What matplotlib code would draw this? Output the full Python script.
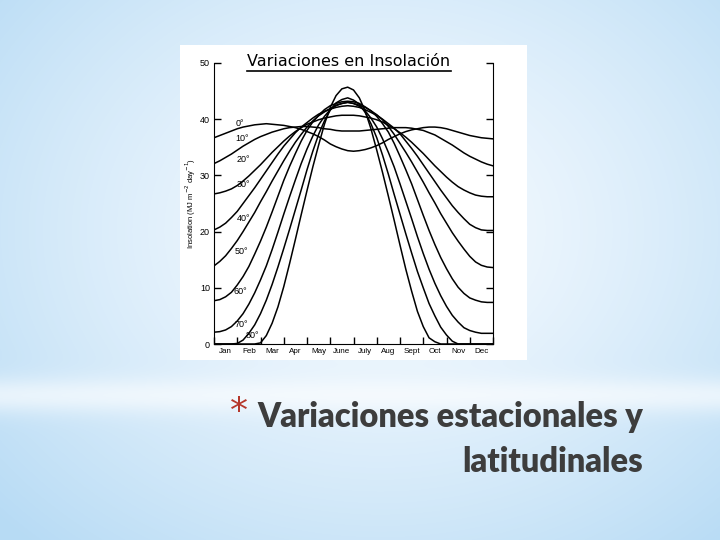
import numpy as np
import matplotlib.pyplot as plt
from matplotlib.patches import Rectangle

# quarter-month sampling, 0 = 1 Jan, 12 = 31 Dec
months = np.arange(49) / 4.0
month_names = ['Jan', 'Feb', 'Mar', 'Apr', 'May', 'June', 'July', 'Aug', 'Sept', 'Oct', 'Nov', 'Dec']

# daily insolation, MJ m-2 day-1
ins_0 = [36.7, 37.1, 37.5, 37.9, 38.3, 38.6, 38.8, 39.0, 39.1, 39.2, 39.1, 39.0, 38.9, 38.7, 38.5, 38.2, 37.8,
         37.4, 36.9, 36.3, 35.6, 35.1, 34.7, 34.4, 34.3, 34.4, 34.6, 34.9, 35.3, 35.8, 36.4, 36.9, 37.4, 37.8,
         38.1, 38.3, 38.5, 38.6, 38.6, 38.5, 38.3, 38.0, 37.7, 37.4, 37.1, 36.9, 36.7, 36.6, 36.5]
ins_10 = [32.1, 32.6, 33.2, 33.8, 34.5, 35.2, 35.8, 36.4, 36.9, 37.3, 37.7, 38.0, 38.3, 38.5, 38.6, 38.7, 38.7,
          38.6, 38.5, 38.3, 38.2, 38.0, 37.9, 37.9, 37.9, 37.9, 38.0, 38.1, 38.2, 38.3, 38.4, 38.5, 38.5, 38.5,
          38.4, 38.2, 38.0, 37.6, 37.2, 36.6, 36.0, 35.4, 34.7, 34.0, 33.4, 32.9, 32.4, 32.0, 31.7]
ins_20 = [26.7, 26.9, 27.2, 27.6, 28.2, 29.0, 29.9, 30.9, 31.9, 33.0, 34.1, 35.1, 36.1, 37.0, 37.8, 38.5, 39.1,
          39.5, 39.9, 40.2, 40.4, 40.6, 40.7, 40.7, 40.7, 40.6, 40.4, 40.2, 39.9, 39.5, 38.9, 38.3, 37.6, 36.8,
          35.9, 34.9, 33.9, 32.8, 31.7, 30.7, 29.7, 28.8, 28.0, 27.4, 26.9, 26.5, 26.3, 26.2, 26.2]
ins_30 = [20.3, 20.8, 21.5, 22.5, 23.6, 25.0, 26.4, 27.8, 29.3, 30.8, 32.3, 33.8, 35.2, 36.4, 37.6, 38.6, 39.4,
          40.2, 40.9, 41.4, 41.8, 42.1, 42.3, 42.4, 42.3, 42.1, 41.7, 41.2, 40.7, 40.0, 39.2, 38.4, 37.4, 36.1,
          34.8, 33.4, 31.9, 30.4, 28.9, 27.4, 26.0, 24.6, 23.4, 22.3, 21.3, 20.7, 20.3, 20.2, 20.2]
ins_40 = [13.9, 14.7, 15.7, 17.0, 18.4, 20.0, 21.7, 23.4, 25.3, 27.1, 29.0, 30.8, 32.6, 34.3, 35.9, 37.3, 38.6,
          39.7, 40.6, 41.3, 41.9, 42.4, 42.8, 43.0, 42.8, 42.5, 42.1, 41.5, 40.8, 39.9, 38.7, 37.3, 35.7, 34.1,
          32.4, 30.6, 28.8, 26.9, 25.1, 23.2, 21.5, 19.8, 18.3, 16.9, 15.6, 14.6, 14.0, 13.7, 13.6]
ins_50 = [7.7, 7.9, 8.4, 9.2, 10.5, 12.0, 13.8, 16.0, 18.3, 20.8, 23.5, 26.3, 29.1, 31.6, 33.9, 36.1, 38.0,
          39.5, 40.7, 41.7, 42.4, 42.8, 43.1, 43.2, 43.1, 42.8, 42.2, 41.5, 40.5, 39.2, 37.7, 35.7, 33.4, 31.0,
          28.5, 25.7, 22.9, 20.2, 17.7, 15.4, 13.4, 11.6, 10.1, 9.0, 8.2, 7.8, 7.5, 7.4, 7.4]
ins_60 = [2.1, 2.2, 2.5, 3.1, 4.1, 5.4, 7.1, 9.1, 11.4, 13.9, 16.8, 19.9, 23.1, 26.2, 29.2, 32.1, 34.7,
          37.0, 39.0, 40.5, 41.7, 42.5, 42.8, 43.0, 42.8, 42.3, 41.5, 40.2, 38.6, 36.5, 34.1, 31.5, 28.5, 25.4,
          22.3, 19.1, 16.1, 13.3, 10.8, 8.6, 6.7, 5.1, 3.9, 2.9, 2.4, 2.1, 1.9, 1.9, 1.9]
ins_70 = [0, 0, 0, 0, 0.1, 0.7, 1.9, 3.4, 5.4, 7.8, 10.6, 13.7, 17.0, 20.4, 23.9, 27.4, 31.0,
          34.3, 37.3, 39.7, 41.6, 42.9, 43.5, 43.8, 43.4, 42.7, 41.2, 39.2, 36.7, 33.6, 30.2, 26.6, 23.1, 19.6,
          16.2, 12.9, 10.0, 7.2, 5.0, 3.0, 1.6, 0.5, 0, 0, 0, 0, 0, 0, 0]
ins_80 = [0, 0, 0, 0, 0, 0, 0, 0, 0.2, 1.5, 3.7, 6.6, 10.2, 14.3, 18.6, 23.0, 27.3,
          31.5, 35.4, 39.1, 42.1, 44.2, 45.4, 45.7, 45.2, 43.8, 41.5, 38.3, 34.5, 30.5, 26.3, 22.0, 17.6, 13.3,
          9.4, 5.8, 3.1, 1.1, 0.4, 0, 0, 0, 0, 0, 0, 0, 0, 0, 0]

latitudes = ['0°', '10°', '20°', '30°', '40°', '50°', '60°', '70°', '80°']
label_x = [1.12, 1.22, 1.26, 1.26, 1.26, 1.19, 1.12, 1.19, 1.65]
label_y = [39.3, 36.5, 32.9, 28.3, 22.3, 16.4, 9.3, 3.5, 1.5]
curves = [ins_0, ins_10, ins_20, ins_30, ins_40, ins_50, ins_60, ins_70, ins_80]

fig = plt.figure(figsize=(7.2, 5.4), dpi=100)

# slide background
bg = fig.add_axes([0, 0, 1, 1])
bg.axis('off')
yy, xx = np.mgrid[0:540, 0:720]
r = np.sqrt(((xx - 380) / 520.0) ** 2 + ((yy - 230) / 420.0) ** 2)
t = np.clip(r, 0, 1)[..., None] ** 1.3
edge = np.array([0.72, 0.86, 0.96])
centre = np.array([0.97, 0.985, 1.0])
img = centre * (1 - t) + edge * t
band = np.exp(-((yy - 395) / 18.0) ** 2)[..., None]
img = img + (1 - img) * 0.6 * band
bg.imshow(img, extent=[0, 1, 0, 1], aspect='auto', origin='upper')
bg.set_xlim(0, 1)
bg.set_ylim(0, 1)
bg.add_patch(Rectangle((180 / 720, 1 - 360 / 540), 347 / 720, 315 / 540, fc='white', ec='none'))

# chart
ax = fig.add_axes([214 / 720, 1 - 344 / 540, 279 / 720, 281 / 540])
for vals in curves:
    ax.plot(months, vals, color='black', lw=1.1)
for lab, lx, ly in zip(latitudes, label_x, label_y):
    ax.text(lx, ly, lab, fontsize=6.5, ha='center', va='center', family='Liberation Sans')

ax.set_xlim(0, 12)
ax.set_ylim(0, 50)
ax.set_xticks(range(13))
ax.set_xticklabels([])
ax.set_xticks(np.arange(0.5, 12, 1), minor=True)
ax.set_xticklabels(month_names, minor=True, fontsize=5.8, family='Liberation Sans')
ax.tick_params(axis='x', which='major', direction='in', length=5, width=1)
ax.tick_params(axis='x', which='minor', length=0, pad=3)
ax.set_yticks(range(0, 51, 10))
ax.tick_params(axis='y', direction='in', length=5, width=1, right=True, labelsize=6.5, pad=3)
for lab in ax.get_yticklabels():
    lab.set_family('Liberation Sans')
ax.spines['top'].set_visible(False)
ax.set_ylabel('Insolation (MJ m$^{-2}$ day$^{-1}$)', fontsize=5.5, family='Liberation Sans', labelpad=1)

fig.text(349 / 720, 1 - 61 / 540, 'Variaciones en Insolación', ha='center', va='center',
         fontsize=11.5, family='DejaVu Sans', zorder=5)
ax.plot([247 / 720, 451 / 720], [1 - 71 / 540] * 2, color='black', lw=1.2,
        transform=fig.transFigure, clip_on=False, zorder=5)

# slide heading
fig.text(239 / 720, 1 - 412 / 540, '*', color='#b5372b', fontsize=26, ha='center', va='center',
         family='DejaVu Sans')
fig.text(643 / 720, 1 - 427 / 540, 'Variaciones estacionales y', ha='right', va='baseline',
         fontsize=23.5, weight='heavy', color='#3d3d3d', family='Lato')
fig.text(643 / 720, 1 - 472 / 540, 'latitudinales', ha='right', va='baseline',
         fontsize=23.5, weight='heavy', color='#3d3d3d', family='Lato')

fig.savefig('out.png', dpi=100)
